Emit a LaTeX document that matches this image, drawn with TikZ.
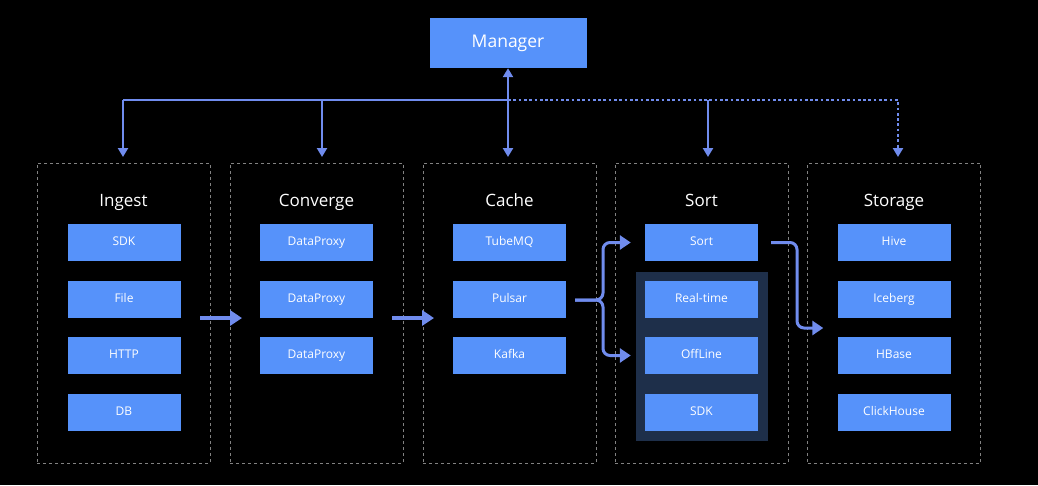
\documentclass[tikz,border=0pt]{standalone}
\usepackage{fontspec}
\setmainfont{Open Sans}
\usetikzlibrary{arrows.meta}
\definecolor{boxblue}{RGB}{86,146,250}
\definecolor{linkblue}{RGB}{112,140,238}
\definecolor{panelblue}{RGB}{30,47,74}
\definecolor{dashgray}{RGB}{130,130,130}
\tikzset{
  item/.style={fill=boxblue,text=white,minimum width=113pt,minimum height=37pt,inner sep=0pt,text height=9pt,text depth=2.5pt,font=\fontsize{12}{14}\selectfont},
  container/.style={draw=dashgray,line width=0.8pt,dash pattern=on 3pt off 3pt,minimum width=173pt,minimum height=300pt,inner sep=0pt},
  title/.style={text=white,anchor=base,font=\fontsize{17}{20}\selectfont},
  bus/.style={draw=linkblue,line width=2.3pt},
  dotbus/.style={draw=linkblue,line width=2.7pt,dash pattern=on 2.7pt off 2.6pt},
  tipdown/.style={-{Triangle[width=10pt,length=9pt]}},
  flow/.style={draw=linkblue,line width=3.6pt,-{Triangle[width=15pt,length=12pt]}},
  bendarrow/.style={draw=linkblue,line width=3pt,rounded corners=7pt,-{Triangle[width=14pt,length=11pt]}}
}
\begin{document}
\begin{tikzpicture}[x=1pt,y=-1pt]
\fill[black] (0,0) rectangle (1038,485);
\useasboundingbox (0,0) rectangle (1038,485);

% Manager
\node[fill=boxblue,text=white,minimum width=157pt,minimum height=50pt,inner sep=0pt,text height=12.5pt,text depth=3.5pt,font=\fontsize{17.5}{20}\selectfont] (mgr) at (508,43) {Manager};

% containers
\node[container] (cIngest) at (123.5,313) {};
\node[container] (cConv) at (316.5,313) {};
\node[container] (cCache) at (509.5,313) {};
\node[container] (cSort) at (701.5,313) {};
\node[container] (cStor) at (894,313) {};

% sort panel
\fill[panelblue] (636,272) rectangle (768,441);

% titles
\node[title] (tIngest) at (123.5,206) {Ingest};
\node[title] (tConv) at (316.5,206) {Converge};
\node[title] (tCache) at (509.5,206) {Cache};
\node[title] (tSort) at (701.5,206) {Sort};
\node[title] (tStor) at (894,206) {Storage};

% items
\node[item] (i1) at (124,242.5) {SDK};
\node[item] (i2) at (124,299) {File};
\node[item] (i3) at (124,355.5) {HTTP};
\node[item] (i4) at (124,412.5) {DB};

\node[item] (v1) at (316.5,242.5) {DataProxy};
\node[item] (v2) at (316.5,299) {DataProxy};
\node[item] (v3) at (316.5,355.5) {DataProxy};

\node[item] (k1) at (509.5,242.5) {TubeMQ};
\node[item] (k2) at (509.5,299) {Pulsar};
\node[item] (k3) at (509.5,355.5) {Kafka};

\node[item] (s1) at (701.5,242.5) {Sort};
\node[item] (s2) at (701.5,299) {Real-time};
\node[item] (s3) at (701.5,355.5) {OffLine};
\node[item] (s4) at (701.5,412.5) {SDK};

\node[item] (g1) at (894,242.5) {Hive};
\node[item] (g2) at (894,299) {Iceberg};
\node[item] (g3) at (894,355.5) {HBase};
\node[item] (g4) at (894,412.5) {ClickHouse};

% bus coordinates
\coordinate (bL) at (123,100);
\coordinate (bC) at (322,100);
\coordinate (bM) at (508,100);
\coordinate (bS) at (708,100);
\coordinate (bR) at (898,100);
\coordinate (aI) at (123,157);
\coordinate (aC) at (322,157);
\coordinate (aM) at (508,157);
\coordinate (aS) at (708,157);
\coordinate (aR) at (898,157);
\coordinate (dR) at (898,146);

\draw[bus] (bL) -- (bM);
\draw[dotbus] (bM) -- (bR) -- (dR);
\draw[draw=linkblue,line width=2.3pt,-{Triangle[width=10pt,length=9pt]}] (dR) -- (aR);
\draw[bus,tipdown] (bL) -- (aI);
\draw[bus,tipdown] (bC) -- (aC);
\draw[bus,tipdown] (bS) -- (aS);
\draw[bus,{Triangle[width=10pt,length=9pt]}-{Triangle[width=10pt,length=9pt]}] (mgr.south) -- (aM);

% flow arrows
\coordinate (f1a) at (200,318);
\coordinate (f1b) at (242,318);
\coordinate (f2a) at (392,318);
\coordinate (f2b) at (434,318);
\draw[flow] (f1a) -- (f1b);
\draw[flow] (f2a) -- (f2b);

% brace from Pulsar
\coordinate (bs) at (575,300);
\coordinate (br) at (603,300);
\draw[bendarrow] (bs) -- (br) |- ([xshift=-14pt]s1.west);
\draw[bendarrow] (bs) -- (br) |- ([xshift=-14pt]s3.west);

% sort to storage
\coordinate (sg) at (797,328);
\draw[bendarrow] ([xshift=13pt]s1.east) -| (sg) -- ([xshift=-14pt]sg -| g3.west);
\end{tikzpicture}
\end{document}
